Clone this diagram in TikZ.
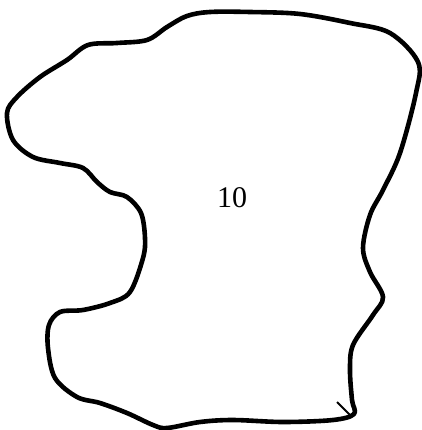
\documentclass[tikz,border=0pt]{standalone}
\usepackage{fontspec}
\setmainfont{Liberation Serif}
\begin{document}
\begin{tikzpicture}[x=1pt,y=-1pt,
  outline/.style={line width=4.6pt,line join=round,line cap=round},
  lbl/.style={font=\fontsize{30}{32}\selectfont,inner sep=0pt}]
\useasboundingbox (0,0) rectangle (421,430);
\draw[outline] plot[smooth cycle,tension=0.55] coordinates {
 (210,12) (250,12) (300,14) (350,23) (390,33) (418,62)
 (416,93) (400,153) (383,190) (370,215) (363,248) (370,272) (383,297)
 (373,315) (353,345) (350,370) (352,400) (354,414)
 (333,420) (283,422) (233,420) (200,422) (167,428)
 (153,425) (127,413) (100,403) (77,397) (55,378) (48,348) (49,325)
 (60,312) (83,310) (110,303) (130,292) (143,258) (145,238) (141,213)
 (127,197) (110,192) (97,182) (83,168) (60,163) (33,157) (13,140)
 (7,113) (17,97) (40,77) (67,60) (88,45) (117,43) (147,40)
 (167,27) (187,16)};
\coordinate (t1) at (337,402);
\coordinate (t2) at (350,415);
\draw[line width=1.8pt] (t1) -- (t2);
\node[lbl] (n) at (232,198) {10};
\end{tikzpicture}
\end{document}
